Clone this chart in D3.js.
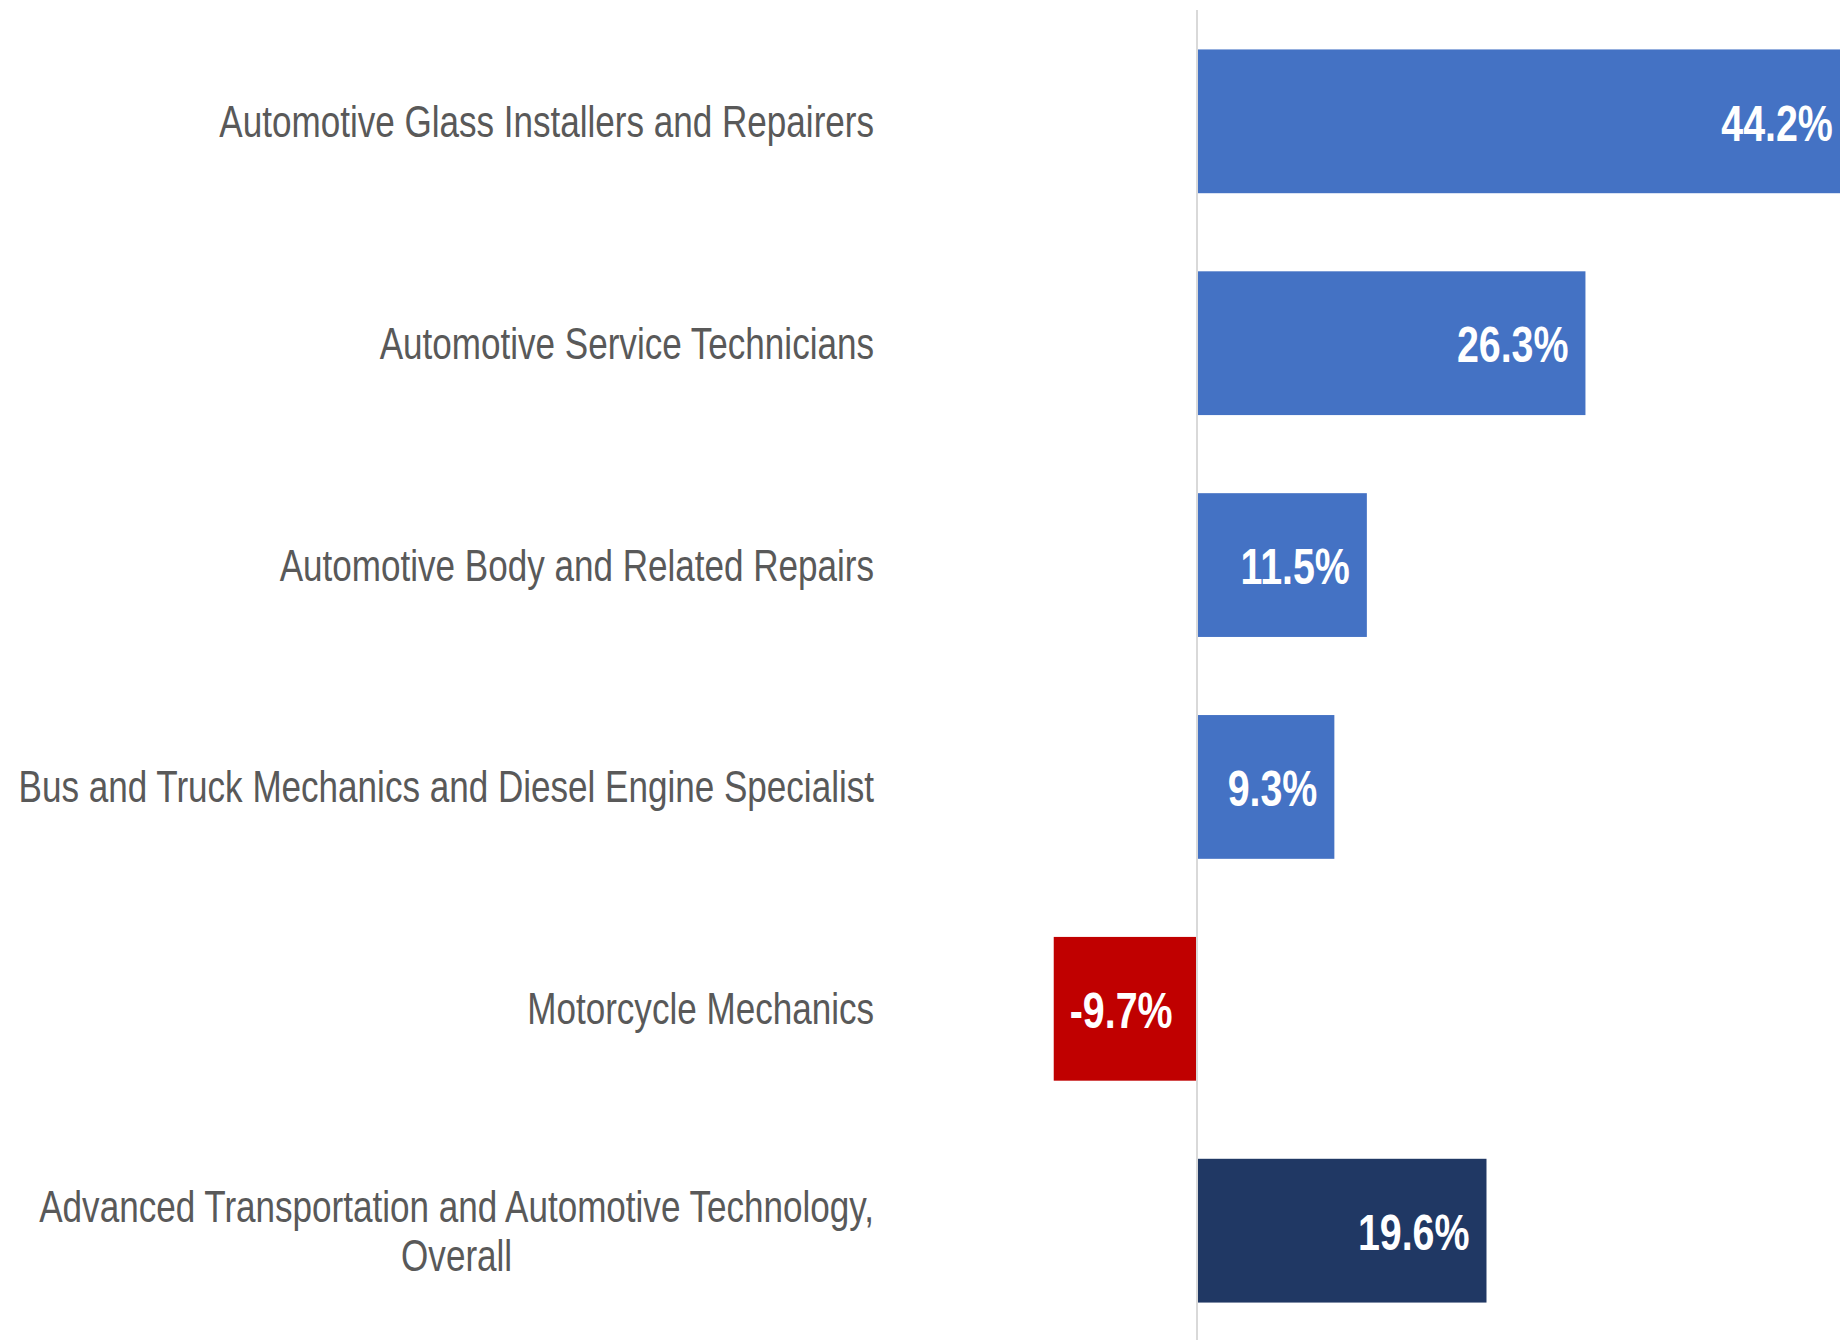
<!DOCTYPE html>
<html>
<head>
<meta charset="utf-8">
<script src="https://cdn.jsdelivr.net/npm/d3@7"></script>
<style>
  html, body { margin: 0; padding: 0; background: #ffffff; overflow: hidden; }
  svg { display: block; }
</style>
</head>
<body>
<div id="chart"></div>
<script>
// categories, top to bottom (last one is wrapped on two lines)
var categories = [
	["Automotive Glass Installers and Repairers"],
	["Automotive Service Technicians"],
	["Automotive Body and Related Repairs"],
	["Bus and Truck Mechanics and Diesel Engine Specialist"],
	["Motorcycle Mechanics"],
	["Advanced Transportation and Automotive Technology,", "Overall"]
];
var growth = [44.2, 26.3, 11.5, 9.3, -9.7, 19.6];
var barKind = ["detail", "detail", "detail", "detail", "detail", "overall"];

var width = 1840, height = 1340;

var svg = d3.select("#chart").append("svg")
	.attr("width", width)
	.attr("height", height);

var rows = categories.map(function (c, i) {
	return { label: c, value: growth[i], kind: barKind[i], key: c.join(" ") };
});

var x = d3.scaleLinear().domain([-20, 50]).range([901.6, 1935.5]);
var y = d3.scaleBand()
	.domain(rows.map(function (d) { return d.key; }))
	.range([9.5, 1342.5])
	.paddingInner(0.352)
	.paddingOuter(0.18);

//bar colour
function barColor(d) {
	if (d.value < 0) { return "#C00000"; }
	if (d.kind == "overall") { return "#203864"; }
	return "#4472C4";
}

//bars
svg.selectAll("rect.bar")
	.data(rows)
	.enter()
	.append("rect")
	.attr("class", "bar")
	.attr("x", function (d) { return x(Math.min(0, d.value)); })
	.attr("y", function (d) { return y(d.key); })
	.attr("width", function (d) { return Math.abs(x(d.value) - x(0)); })
	.attr("height", y.bandwidth())
	.attr("fill", barColor);

//zero line
svg.append("line")
	.attr("x1", x(0)).attr("x2", x(0))
	.attr("y1", 10).attr("y2", height)
	.attr("stroke", "#D9D9D9")
	.attr("stroke-width", 2);

//no narrow font installed: squeeze Liberation Sans like Arial Narrow
var font = "'Liberation Sans', Arial, sans-serif";

//category labels
var labels = svg.selectAll("text.cat")
	.data(rows)
	.enter()
	.append("text")
	.attr("class", "cat")
	.attr("font-family", font)
	.attr("font-size", "42px")
	.attr("fill", "#595959")
	.attr("text-anchor", "end")
	.attr("transform", function (d) {
		return "translate(874," + (y(d.key) + y.bandwidth() / 2) + ") scale(0.835,1.04)";
	});

labels.each(function (d) {
	var t = d3.select(this);
	var n = d.label.length;
	if (n == 1) {
		t.append("tspan").attr("x", 0).attr("y", 0)
			.attr("dominant-baseline", "central").text(d.label[0]);
	} else {
		//two lines, centred under each other
		var first = t.append("tspan").attr("x", 0).attr("y", -23.5)
			.attr("dominant-baseline", "central").text(d.label[0]);
		var w = first.node().getComputedTextLength();
		t.append("tspan").attr("x", -w / 2).attr("y", 23.5)
			.attr("text-anchor", "middle")
			.attr("dominant-baseline", "central").text(d.label[1]);
	}
});

//value labels inside bar end
svg.selectAll("text.val")
	.data(rows)
	.enter()
	.append("text")
	.attr("class", "val")
	.text(function (d) { return d.value.toFixed(1) + "%"; })
	.attr("transform", function (d) {
		var tx = d.value < 0 ? x(d.value) + 16 : x(d.value) - 17;
		return "translate(" + tx + "," + (y(d.key) + y.bandwidth() / 2 + 2) + ") scale(0.82,1.04)";
	})
	.attr("dominant-baseline", "central")
	.attr("text-anchor", function (d) { return d.value < 0 ? "start" : "end"; })
	.attr("font-family", font)
	.attr("font-weight", "bold")
	.attr("font-size", "48px")
	.attr("fill", "#ffffff");
</script>
</body>
</html>
